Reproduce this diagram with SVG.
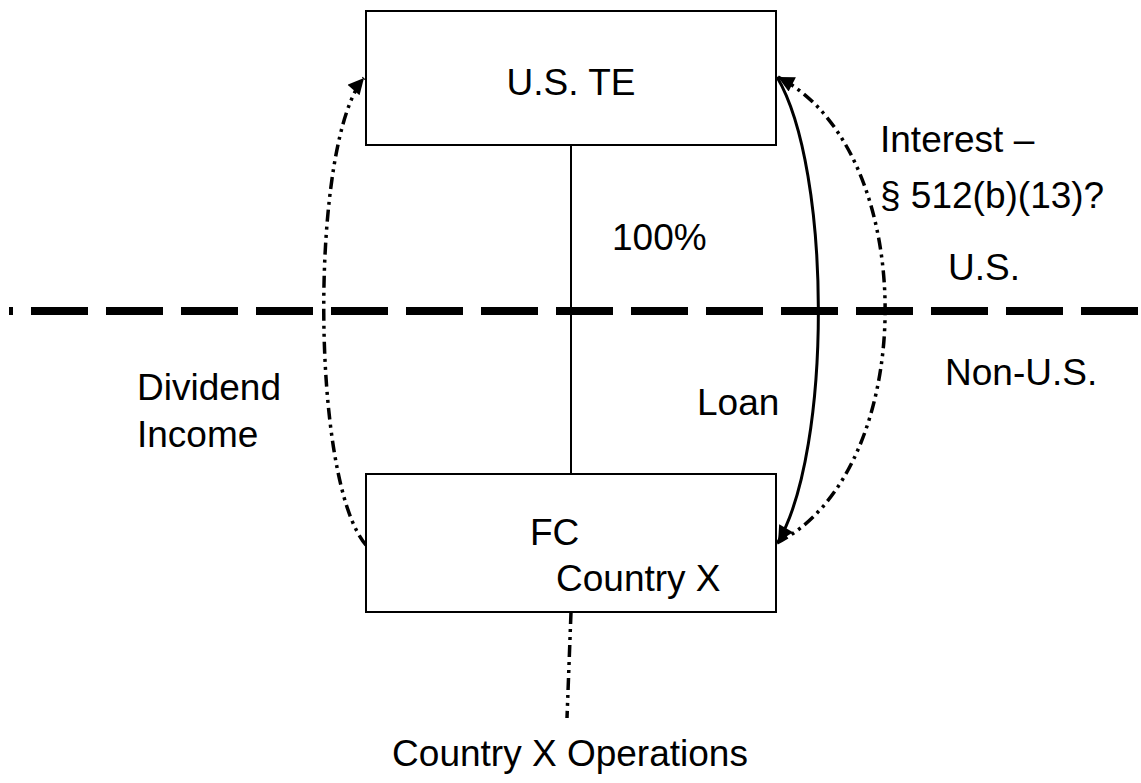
<svg xmlns="http://www.w3.org/2000/svg" width="1141" height="783" viewBox="0 0 1141 783">
<style>
.box{fill:#fff;stroke:#000;stroke-width:2}
.t{font-family:"Liberation Sans",Arial,sans-serif;font-size:37px;fill:#000}
.dd{fill:none;stroke:#000;stroke-width:3.5;stroke-dasharray:12 5 3 5 3 5}
.solid{fill:none;stroke:#000;stroke-width:3}
</style>
<defs>
<marker id="ah" viewBox="0 0 10 10" refX="10" refY="5" markerWidth="19" markerHeight="16" markerUnits="userSpaceOnUse" orient="auto">
<path d="M0,0 L10,5 L0,10 z" fill="#000"/>
</marker>
</defs>
<rect width="1141" height="783" fill="#fff"/>
<g id="boundary">
<line x1="9" y1="311" x2="1141" y2="311" stroke="#000" stroke-width="8" stroke-dasharray="57 18" stroke-dashoffset="53"/>
<text class="t" x="948" y="280">U.S.</text>
<text class="t" x="945" y="385">Non-U.S.</text>
</g>
<g id="connectors">
<line x1="571" y1="145" x2="571" y2="474" stroke="#000" stroke-width="2"/>
<path class="dd" d="M366,545 C310,480 310,140 364,78" marker-end="url(#ah)"/>
<path class="solid" d="M777,77 C832,170 832,450 778,542" marker-end="url(#ah)"/>
<path class="dd" d="M777,543 C921,470 921,150 778,77" marker-end="url(#ah)"/>
<line class="dd" x1="571" y1="612" x2="567" y2="718"/>
<text class="t" x="612" y="250">100%</text>
<text class="t" x="137" y="400">Dividend</text>
<text class="t" x="137" y="447">Income</text>
<text class="t" x="697" y="415">Loan</text>
<text class="t" x="880" y="152">Interest –</text>
<text class="t" x="880" y="208">§ 512(b)(13)?</text>
</g>
<g id="us-te">
<rect class="box" x="366" y="11" width="410" height="134"/>
<text class="t" x="571" y="95" text-anchor="middle">U.S. TE</text>
</g>
<g id="fc">
<rect class="box" x="366" y="474" width="410" height="138"/>
<text class="t" x="530" y="545">FC</text>
<text class="t" x="556" y="591">Country X</text>
</g>
<g id="operations">
<text class="t" x="570" y="766" text-anchor="middle">Country X Operations</text>
</g>
</svg>
